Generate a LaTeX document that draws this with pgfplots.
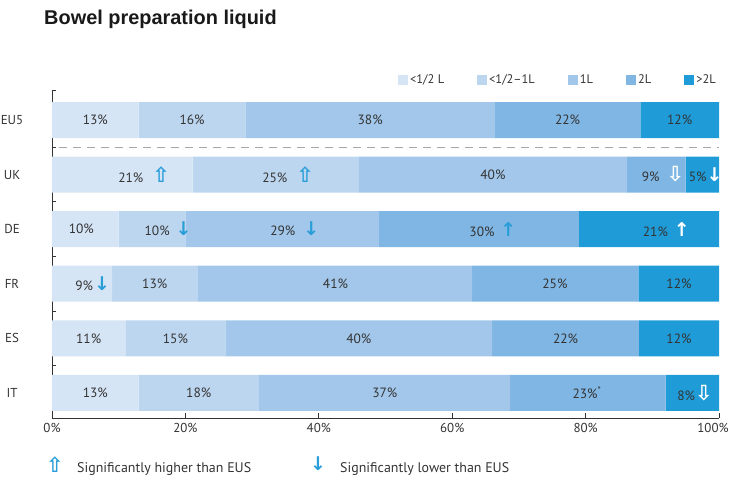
\documentclass[border=0pt]{standalone}
\usepackage{pgfplots}
\pgfplotsset{compat=1.18}
\usepackage{fontspec}
\setmainfont{PT Sans}
\newfontfamily\titlefont{Liberation Sans}
\newfontfamily\sym{DejaVu Sans}
\definecolor{cA}{HTML}{D6E5F6}
\definecolor{cB}{HTML}{BDD6F0}
\definecolor{cC}{HTML}{A2C7EA}
\definecolor{cD}{HTML}{80B6E3}
\definecolor{cE}{HTML}{1F9CD8}
\definecolor{arrowblue}{HTML}{2A9ED8}
\definecolor{txt}{HTML}{333333}
\DeclareRobustCommand{\upf}{{\sym\bfseries\fontsize{21}{21}\selectfont\color{arrowblue}⇧}}
\DeclareRobustCommand{\upt}{{\sym\bfseries\fontsize{19}{19}\selectfont\color{arrowblue}↑}}
\DeclareRobustCommand{\uptw}{{\sym\bfseries\fontsize{19}{19}\selectfont\color{white}↑}}
\DeclareRobustCommand{\dnt}{{\sym\bfseries\fontsize{19}{19}\selectfont\color{arrowblue}↓}}
\DeclareRobustCommand{\dntw}{{\sym\bfseries\fontsize{19}{19}\selectfont\color{white}↓}}
\DeclareRobustCommand{\dnfw}{{\sym\bfseries\fontsize{21}{21}\selectfont\color{white}⇩}}
\begin{document}
\begin{tikzpicture}
\path[use as bounding box] (-52bp,-77bp) rectangle (679bp,418bp);
\begin{axis}[name=ax,
  at={(0,0)}, anchor=south west,
  scale only axis, width=667bp, height=328bp,
  xbar stacked, bar width=36bp,
  xmin=0, xmax=100, ymin=-0.46, ymax=5.55,
  axis lines*=left,
  axis line style={draw=txt, line width=0.8bp},
  tick style={draw=txt, line width=0.8bp},
  tick align=inside,
  major tick length=5bp, minor tick length=4bp,
  ytick={0,1,2,3,4,5},
  yticklabels={IT,ES,FR,DE,UK,EU5},
  major y tick style={draw=none},
  minor ytick={0.5,1.5,2.5,3.5,4.5,5.55},
  xtick={0,20,40,60,80},
  xticklabels={0\%,20\%,40\%,60\%,80\%},
  extra x ticks={100},
  extra x tick labels={100\%},
  extra x tick style={xticklabel style={xshift=-6bp}},
  ticklabel style={font=\fontsize{13}{15}\selectfont, text=txt},
  yticklabel style={anchor=center, xshift=-40bp},
  xticklabel style={yshift=-2bp},
  legend columns=5,
  legend style={draw=none, fill=none, at={(1,1)}, anchor=south east, yshift=1bp, xshift=2bp,
    font=\fontsize{12.5}{14}\selectfont, text=txt,
    /tikz/every even column/.append style={column sep=31bp}},
  legend image code/.code={\fill[#1] (0bp,-5bp) rectangle (10bp,5bp);},
]
\addplot[fill=cA, draw=none] coordinates {(13,5) (21.1,4) (10,3) (9,2) (11,1) (13,0)};
\addlegendentry{<1/2 L}
\addplot[fill=cB, draw=none] coordinates {(16,5) (24.9,4) (10,3) (12.9,2) (15,1) (18,0)};
\addlegendentry{<1/2–1L}
\addplot[fill=cC, draw=none] coordinates {(37.4,5) (40.2,4) (29,3) (41.1,2) (40,1) (37.7,0)};
\addlegendentry{1L}
\addplot[fill=cD, draw=none] coordinates {(21.8,5) (8.8,4) (30,3) (24.9,2) (22,1) (23.3,0)};
\addlegendentry{2L}
\addplot[fill=cE, draw=none] coordinates {(11.8,5) (5,4) (21,3) (12.1,2) (12,1) (8,0)};
\addlegendentry{>2L}
\end{axis}
\begin{axis}[
  at={(0,0)}, anchor=south west,
  scale only axis, width=667bp, height=328bp,
  xmin=0, xmax=100, ymin=-0.46, ymax=5.55,
  hide axis,
]
\addplot[draw=gray!70, dash pattern=on 8bp off 6bp, line width=0.8bp] coordinates {(1,4.5) (100,4.5)};
\addplot[draw=none, mark=none, nodes near coords, point meta=explicit symbolic,
  nodes near coords align=center,
  nodes near coords style={anchor=center, font=\fontsize{13.5}{15}\selectfont, text=txt, inner sep=0pt}]
coordinates {
 (6.5,5) [13\%] (21,5) [16\%] (47.7,5) [38\%] (77.3,5) [22\%] (94.1,5) [12\%]
 (13.8,4) [21\%\hspace{9bp}\upf] (35.4,4) [25\%\hspace{9bp}\upf] (66.1,4) [40\%] (91.6,4) [9\%\hspace{7bp}\dnfw] (98,4) [5\%\dntw]
 (4.4,3) [10\%] (17.4,3) [10\%\hspace{6bp}\dnt] (36.4,3) [29\%\hspace{8bp}\dnt] (66.1,3) [30\%\hspace{6bp}\upt] (92.1,3) [21\%\hspace{6bp}\uptw]
 (6.1,2) [9\%\hspace{1bp}\dnt] (15.4,2) [13\%] (42.5,2) [41\%] (75.4,2) [25\%] (94,2) [12\%]
 (5.5,1) [11\%] (18.5,1) [15\%] (46,1) [40\%] (77,1) [22\%] (94,1) [12\%]
 (6.5,0) [13\%] (22,0) [18\%] (49.9,0) [37\%] (80.2,0) [23\%\textsuperscript{*}] (96.4,0) [8\%\dnfw]
};
\end{axis}
\node[anchor=base west, inner sep=0pt, font=\titlefont\bfseries\fontsize{20}{24}\selectfont, text=black!90] at (-8bp,393bp) {Bowel preparation liquid};
\node[anchor=base, inner sep=0pt] at (3bp,-54bp) {\upf};
\node[anchor=base west, inner sep=0pt, font=\fontsize{14}{16}\selectfont, text=txt] at (25bp,-54bp) {Significantly higher than EUS};
\node[anchor=base, inner sep=0pt] at (266bp,-52bp) {\dnt};
\node[anchor=base west, inner sep=0pt, font=\fontsize{14}{16}\selectfont, text=txt] at (288bp,-54bp) {Significantly lower than EUS};
\end{tikzpicture}
\end{document}
